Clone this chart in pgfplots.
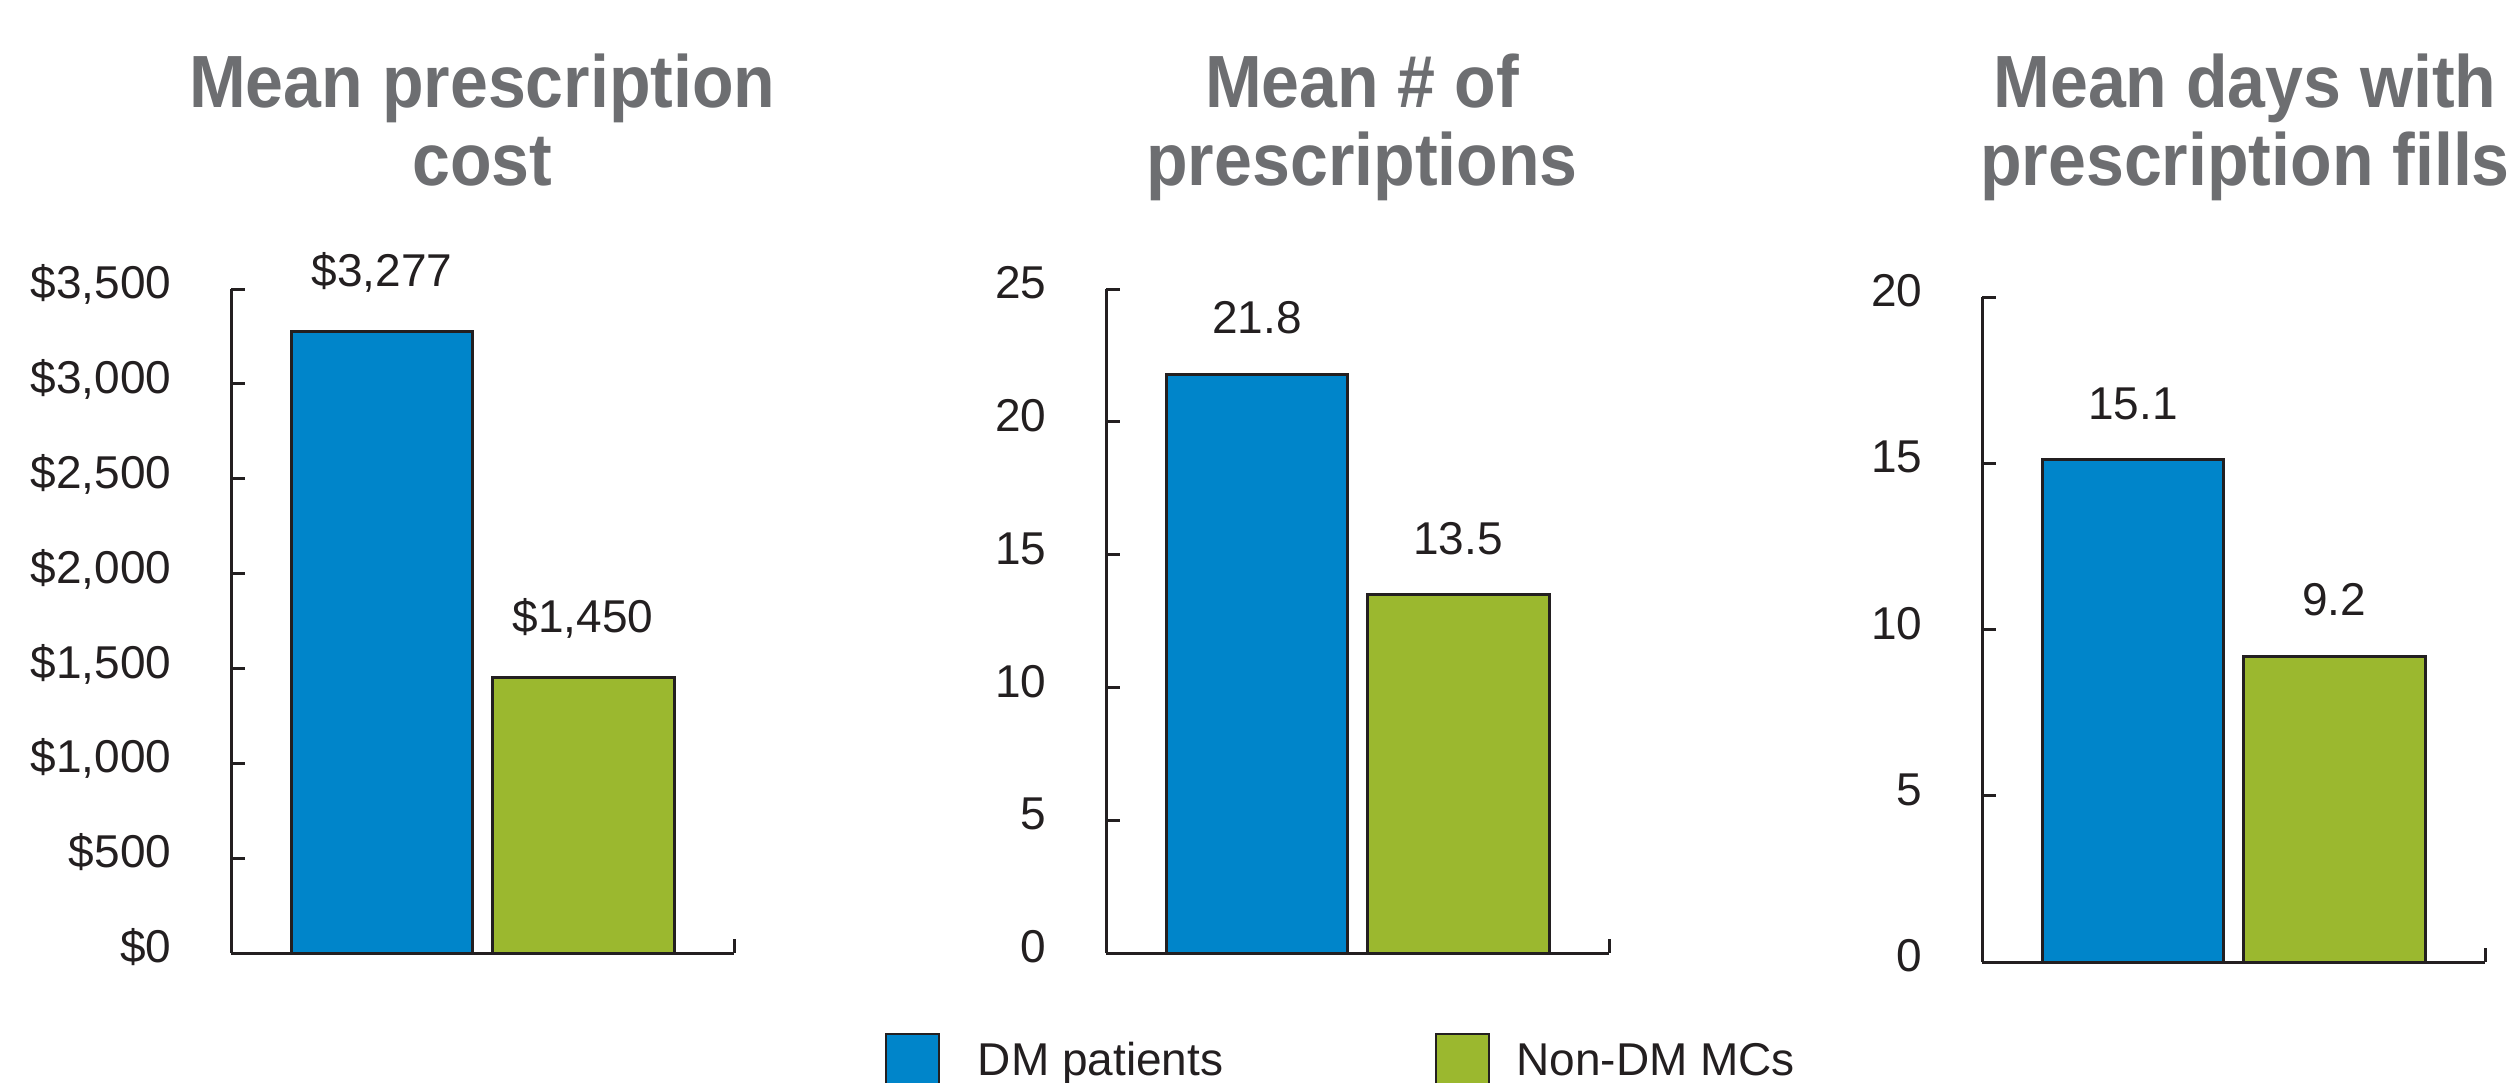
\documentclass[border=0pt]{standalone}
\usepackage{fontspec}
\setmainfont{Liberation Sans}
\newfontfamily\titlefont{Liberation Sans}[FakeStretch=0.92]
\usepackage{pgfplots}
\pgfplotsset{compat=1.18}
\definecolor{dmblue}{RGB}{0,133,202}
\definecolor{nongreen}{RGB}{155,184,47}
\definecolor{titlegray}{RGB}{109,110,113}
\definecolor{ink}{RGB}{35,31,32}
\newcommand{\lblfont}{\fontsize{11.5}{13}\selectfont}
\newcommand{\ttlfont}{\titlefont\bfseries\fontsize{18.5}{20}\selectfont}
\pgfplotsset{
  panel/.style={
    scale only axis, width=125.75pt, height=166pt,
    anchor=south west,
    axis lines*=left,
    axis line style={ink, line width=0.75pt},
    xmin=0.249, xmax=2.751, ymin=0,
    xtick={2.751}, xticklabels={},
    tick align=inside,
    major tick length=3.5pt,
    tick style={ink, line width=0.75pt},
    enlargelimits=false,
    clip=false,
    /pgf/number format/assume math mode=true,
    yticklabel style={anchor=base east, inner sep=0pt, xshift=-14.75pt, yshift=-2.4pt, font=\lblfont, text=ink},
    nodes near coords,
    every node near coord/.append style={anchor=base, inner sep=0pt, yshift=10.1pt, font=\lblfont, text=ink},
  },
  bluebar/.style={ybar, bar width=0.905, bar shift=0pt, fill=dmblue, draw=ink, line width=0.75pt},
  greenbar/.style={ybar, bar width=0.905, bar shift=0pt, fill=nongreen, draw=ink, line width=0.75pt},
}
\begin{document}
\begin{tikzpicture}
\useasboundingbox (0,0) rectangle (628pt,270.5pt);
\clip (0,0) rectangle (628pt,270.5pt);

% Panel 1
\begin{axis}[panel, at={(57.75pt,32.25pt)},
  ymax=3500, ytick={0,500,...,3500},
  yticklabel={\$\pgfmathprintnumber{\tick}},
  nodes near coords={\$\pgfmathprintnumber{\pgfplotspointmeta}},
  every node near coord/.append style={yshift=1.2pt}]
\addplot[bluebar] coordinates {(1,3277)};
\addplot[greenbar] coordinates {(2,1450)};
\end{axis}

% Panel 2
\begin{axis}[panel, at={(276.5pt,32.25pt)},
  ymax=25, ytick={0,5,...,25},
  legend image code/.code={\filldraw[#1, line width=0.5pt] (0pt,-3pt) rectangle (13.25pt,10.25pt);},
  legend columns=4,
  legend style={at={(-0.4394,-0.1205)}, anchor=north west, draw=none, fill=none,
    inner sep=0pt, outer sep=0pt, font=\lblfont, text=ink,
    nodes={inner sep=0pt},
    cells={anchor=base west},
    /tikz/column 1/.style={column sep=9.5pt},
    /tikz/column 2/.style={column sep=53pt},
    /tikz/column 3/.style={column sep=6.5pt}}]
\addplot[bluebar, forget plot] coordinates {(1,21.8)};
\addplot[greenbar, forget plot] coordinates {(2,13.5)};
\addlegendimage{fill=dmblue, draw=ink}
\addlegendentry{DM patients}
\addlegendimage{fill=nongreen, draw=ink}
\addlegendentry{Non-DM MCs}
\end{axis}

% Panel 3
\begin{axis}[panel, at={(495.5pt,30pt)}, height=166.25pt,
  ymax=20, ytick={0,5,...,20}]
\addplot[bluebar] coordinates {(1,15.1)};
\addplot[greenbar] coordinates {(2,9.2)};
\end{axis}

% Titles
\node[anchor=base, font=\ttlfont, text=titlegray] at (120.6pt,243.5pt) {Mean prescription};
\node[anchor=base, font=\ttlfont, text=titlegray] at (120.6pt,224pt) {cost};
\node[anchor=base, font=\ttlfont, text=titlegray] at (340.5pt,243.5pt) {Mean \# of};
\node[anchor=base, font=\ttlfont, text=titlegray] at (340.5pt,224pt) {prescriptions};
\node[anchor=base, font=\ttlfont, text=titlegray] at (561.25pt,243.5pt) {Mean days with};
\node[anchor=base, font=\ttlfont, text=titlegray] at (561.25pt,224pt) {prescription fills};
\end{tikzpicture}
\end{document}
